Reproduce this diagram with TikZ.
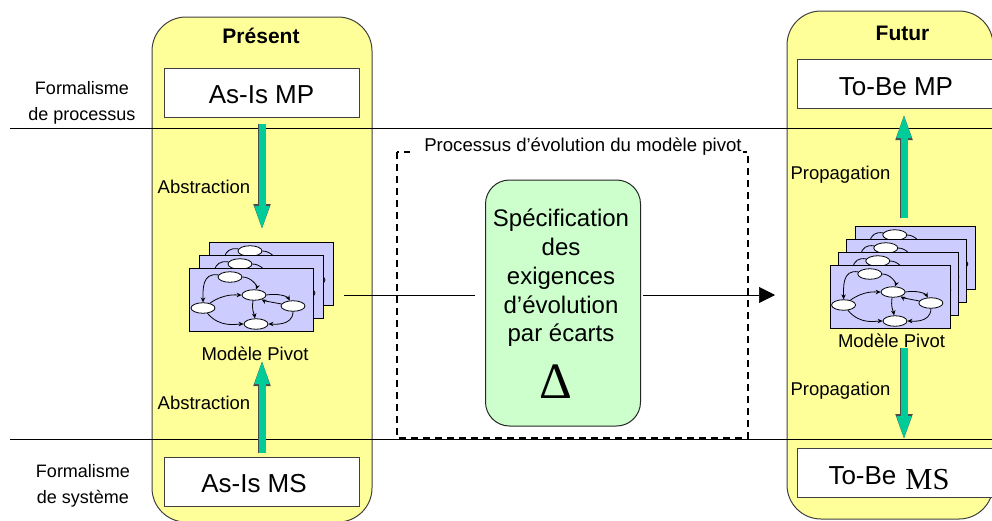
\documentclass[tikz,border=0pt]{standalone}
\usepackage{fontspec}
\setmainfont{Liberation Sans}
\newfontfamily\serifmix{Liberation Serif}
\usetikzlibrary{arrows.meta}
\usetikzlibrary{shapes.geometric}
\definecolor{paneyellow}{RGB}{255,255,153}
\definecolor{sheetblue}{RGB}{204,204,255}
\definecolor{specgreen}{RGB}{204,255,204}
\definecolor{fatgreen}{RGB}{0,204,153}
\tikzset{
	panel/.style={draw=black!75, line width=1pt, fill=paneyellow, rounded corners=34pt},
	levelbox/.style={draw=black!75, line width=1pt, fill=white, minimum height=49pt, text height=22pt, text depth=0pt, font=\fontsize{26}{28}\selectfont},
	sidetext/.style={font=\fontsize{18}{26}\selectfont, align=center},
	fattext/.style={font=\fontsize{18.5}{20}\selectfont},
	fatarrow/.style={fatgreen, line width=7pt, -{Triangle[width=13pt,length=25pt]}, preaction={draw=black!70, line width=8.5pt, -{Triangle[width=15pt,length=27pt]}}},
	sheet/.style={draw=black, line width=1pt, fill=sheetblue},
	state/.style={draw=black, line width=.8pt, fill=white, ellipse, minimum width=24pt, minimum height=10.5pt, inner sep=0pt},
	flow/.style={line width=.8pt, -{Stealth[length=5pt,width=4.5pt]}},
	pics/pivotsheet/.style={code={
		\draw[sheet] (0,0) rectangle (124,63);
		\node[state] (-top) at (41,9) {};
		\node[state] (-mid) at (65,27) {};
		\node[state] (-lft) at (14,40) {};
		\node[state] (-rgt) at (104,38) {};
		\node[state] (-bot) at (67,56) {};
		\draw[flow] (-top) to[out=170,in=90,looseness=1.2] (-lft);
		\draw[flow] (-top) to[out=0,in=70,looseness=1.1] (-mid);
		\draw[flow] (-lft) to[out=35,in=180] (-mid);
		\draw[flow] (-lft) to[out=-50,in=180] (-bot);
		\draw[flow] (-mid.east) to[out=10,in=120] (-rgt);
		\draw[flow] (-rgt) to[out=170,in=-30] (-mid);
		\draw[flow] (-mid) to[out=-100,in=100] (-bot);
		\draw[flow] (-rgt) to[out=-90,in=0] (-bot);
	}},
}
\begin{document}
\begin{tikzpicture}[x=1pt,y=-1pt]
	\useasboundingbox (0,0) rectangle (992,520);

	% draw yellow panels
	\draw[panel] (152,17) rectangle (372,522);
	\draw[panel] (787,11) rectangle (993,519);

	% draw level lines
	\coordinate (topa) at (10,128);
	\coordinate (topb) at (992,128);
	\coordinate (bota) at (10,439);
	\coordinate (botb) at (992,439);
	\draw[line width=.8pt] (topa) -- (topb);
	\draw[line width=.8pt] (bota) -- (botb);

	% draw titles
	\node[font=\fontsize{21}{24}\selectfont\bfseries] (present) at (261,36) {Présent};
	\node[font=\fontsize{21}{24}\selectfont\bfseries] (futur) at (902.5,33) {Futur};

	% draw side labels
	\node[sidetext] (fproc) at (82,102.5) {Formalisme\\de processus};
	\node[sidetext] (fsys) at (83,486) {Formalisme\\de système};

	% draw level boxes
	\node[levelbox, minimum width=195pt] (asismp) at (261.5,92.5) {As-Is MP};
	\node[levelbox, minimum width=195pt] (asisms) at (261.5,481.5) {\hspace*{-15pt}As-Is MS};
	\node[levelbox, minimum width=197pt] (tobemp) at (896,84) {To-Be MP};
	\node[levelbox, minimum width=197pt] (tobems) at (896,473) {\hspace*{-14pt}To-Be\hspace{9pt}\raisebox{-5pt}{\fontsize{30.5}{32}\serifmix MS}};

	% draw dashed frame
	\draw[dashed, line width=1.1pt, dash pattern=on 7pt off 5pt] (397,152) rectangle (748,438);
	\node[fill=white, inner xsep=1pt, inner ysep=1pt, font=\fontsize{18.6}{20}\selectfont] (frametext) at (576.5,147) {\hspace*{13pt}Processus d’évolution du modèle pivot};

	% draw specification box
	\node[draw=black!85, line width=1pt, fill=specgreen, rounded corners=24pt, minimum width=155pt, minimum height=246pt] (spec) at (563,303) {};
	\node[align=center, font=\fontsize{24}{28.7}\selectfont] (spectext) at (561,278) {Spécification\\des\\exigences\\d’évolution\\par écarts};
	\node[font=\fontsize{51}{54}\serifmix] (delta) at (556,382) {Δ};

	% draw sheet stacks
	\foreach \x/\y/\n in {209/242/a,199/255/b,189/268/c}
	\pic (pres\n) at (\x,\y) {pivotsheet};
	\foreach \x/\y/\n in {855/226/a,846/239/b,838/252/c,830/265/d}
	\pic[xscale=.97] (fut\n) at (\x,\y) {pivotsheet};
	\node[fattext] (pivotpres) at (255,354) {Modèle Pivot};
	\node[fattext] (pivotfut) at (891.5,341) {Modèle Pivot};

	% draw fat arrows
	\coordinate (abstop) at (262,124);
	\coordinate (abstoptip) at (262,231);
	\coordinate (absbot) at (262,453);
	\coordinate (absbottip) at (262,359);
	\coordinate (proptop) at (904,218);
	\coordinate (proptoptip) at (904,113);
	\coordinate (propbot) at (904,348);
	\coordinate (propbottip) at (904,441);
	\draw[fatarrow] (abstop) -- (abstoptip);
	\draw[fatarrow] (absbot) -- (absbottip);
	\draw[fatarrow] (proptop) -- (proptoptip);
	\draw[fatarrow] (propbot) -- (propbottip);
	\node[fattext] (absa) at (204,187) {Abstraction};
	\node[fattext] (absb) at (204,403) {Abstraction};
	\node[fattext] (propa) at (840.5,175) {Propagation};
	\node[fattext] (propb) at (840.5,391) {Propagation};

	% draw evolution line
	\coordinate (evola) at (344,295);
	\coordinate (evolb) at (475,295);
	\coordinate (evolc) at (643,295);
	\coordinate (evold) at (775,295);
	\draw[line width=.7pt] (evola) -- (evolb);
	\draw[line width=.7pt, -{Triangle[width=16pt,length=16pt]}] (evolc) -- (evold);
\end{tikzpicture}
\end{document}
